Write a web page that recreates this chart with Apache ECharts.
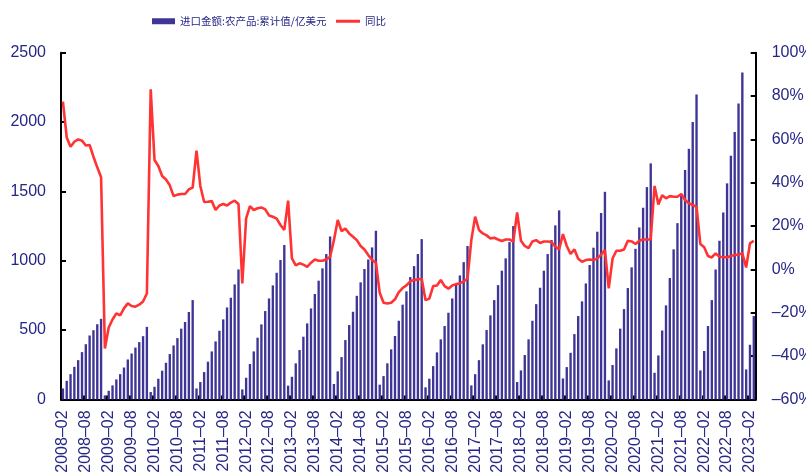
<!DOCTYPE html>
<html>
<head>
<meta charset="utf-8">
<script src="https://cdn.jsdelivr.net/npm/echarts@6/dist/echarts.min.js"></script>
<style>
html,body{margin:0;padding:0;background:#fff;}
#c{width:806px;height:476px;}
</style>
</head>
<body>
<div id="c"></div>
<script>
// Cumulative agricultural imports (亿美元), monthly, 2008-02 .. 2023-03
var val2008 = [79,134,182,235,283,341,398,461,499,542,581];
var val2009 = [29,62,101,144,182,230,288,331,374,413,456,523];
var val2010 = [53,91,149,207,264,327,389,442,510,558,630,716];
var val2011 = [79,125,197,272,346,418,495,577,663,733,829,937];
var val2012 = [72,156,255,346,445,541,637,728,822,913,1005,1113];
var val2013 = [99,163,260,356,452,548,656,760,856,945,1048,1175];
var val2014 = [111,202,305,428,536,632,747,844,940,1009,1096,1216];
var val2015 = [106,168,260,361,457,567,683,779,882,961,1048,1156];
var val2016 = [87,149,240,339,433,529,625,728,829,894,990,1106];
var val2017 = [101,182,283,397,500,606,716,824,928,1017,1134,1250];
var val2018 = [125,209,320,433,567,687,805,928,1048,1149,1255,1363];
var val2019 = [151,233,336,471,601,707,836,969,1094,1209,1344,1497];
var val2020 = [137,248,368,510,651,803,952,1086,1240,1382,1531,1702];
var val2021 = [192,317,497,678,875,1082,1271,1469,1654,1807,2000,2199];
var val2022 = [209,349,529,716,937,1144,1348,1558,1757,1928,2134,2358];
var val2023 = [216,394,601];

// Year-on-year (%)
var yoy2008 = [77.4,60.9,56.6,58.9,60.0,59.4,57.2,57.4,52.0,47.1,42.5];
var yoy2009 = [-36.5,-26.8,-23.1,-20.3,-21.2,-18.0,-15.7,-16.9,-17.2,-16.3,-14.8,-11.1];
var yoy2010 = [83.1,50.5,47.7,43.1,41.5,38.8,33.8,34.5,34.8,34.8,36.9,37.8];
var yoy2011 = [54.8,38.5,31.1,31.2,31.5,27.4,29.5,30.2,29.5,30.8,31.7,30.2];
var yoy2012 = [-6.5,23.5,29.2,27.4,28.2,28.6,27.7,24.9,24.3,23.4,20.5,18.2];
var yoy2013 = [31.7,5.1,1.8,2.8,2.2,1.2,3.1,4.6,4.0,4.0,4.6,5.8];
var yoy2014 = [13.5,22.8,17.7,18.8,16.6,15.1,13.5,10.8,9.2,6.6,4.3,3.1];
var yoy2015 = [-10.8,-15.4,-15.7,-15.4,-13.8,-10.5,-8.6,-7.4,-5.5,-4.9,-4.6,-4.3];
var yoy2016 = [-14.2,-13.5,-7.7,-7.4,-4.9,-7.7,-8.9,-7.4,-6.8,-6.5,-5.5,-4.3];
var yoy2017 = [13.5,24.3,18.2,16.6,15.7,14.3,14.6,13.8,13.1,13.8,13.8,12.8];
var yoy2018 = [26.3,13.2,10.8,9.8,12.9,13.5,12.2,12.9,12.9,12.6,10.5,9.2];
var yoy2019 = [16.3,10.8,7.1,9.2,4.9,3.5,4.3,4.6,4.3,5.1,6.8,8.9];
var yoy2020 = [-8.8,5.0,8.6,8.6,9.2,13.2,12.9,11.7,13.2,13.8,13.8,13.8];
var yoy2021 = [38.5,30.0,34.2,32.8,33.8,33.5,33.5,34.8,32.0,30.5,29.7,28.9];
var yoy2022 = [11.7,10.2,6.2,5.5,7.4,5.8,5.7,5.5,6.2,6.6,6.9,7.4];
var yoy2023 = [0.9,12.0,13.2];

var firstYear = 2008, firstMonth = 2, lastYear = 2023, lastMonth = 3;
var seriesNames = ['进口金额:农产品:累计值/亿美元', '同比'];
var leftTicks = {min: 0, max: 2500, interval: 500};
var rightTicks = {min: -60, max: 100, interval: 20};

var values = [].concat(val2008,val2009,val2010,val2011,val2012,val2013,val2014,val2015,val2016,val2017,val2018,val2019,val2020,val2021,val2022,val2023);
var yoy = [].concat(yoy2008,yoy2009,yoy2010,yoy2011,yoy2012,yoy2013,yoy2014,yoy2015,yoy2016,yoy2017,yoy2018,yoy2019,yoy2020,yoy2021,yoy2022,yoy2023);

var months = [];
for (var y = firstYear; y <= lastYear; y++) {
  for (var m = 1; m <= 12; m++) {
    if (y === firstYear && m < firstMonth) continue;
    if (y === lastYear && m > lastMonth) continue;
    months.push(y + '–' + (m < 10 ? '0' + m : '' + m));
  }
}

var navy = '#262686';
var barColor = '#3f3596';
var lineColor = '#ff3333';
var numFont = 'Liberation Sans, Arial, sans-serif';
var legendText = {color: navy, fontSize: 10.5, fontFamily: 'Noto Sans CJK SC, sans-serif'};

var chart = echarts.init(document.getElementById('c'), null, {renderer: 'canvas'});
chart.setOption({
  animation: false,
  backgroundColor: '#ffffff',
  legend: [
    {
      left: 152, top: 16, padding: 0,
      itemWidth: 23, itemHeight: 6, itemGap: 4,
      textStyle: legendText,
      data: [{name: seriesNames[0], icon: 'rect'}]
    },
    {
      left: 336, top: 16, padding: 0,
      itemWidth: 24, itemHeight: 3, itemGap: 4,
      textStyle: legendText,
      data: [{name: seriesNames[1], icon: 'rect'}]
    }
  ],
  grid: {left: 61, right: 50.3, top: 52.7, bottom: 76.6, containLabel: false, outerBoundsMode: 'none'},
  xAxis: {
    type: 'category',
    data: months,
    boundaryGap: true,
    axisLine: {lineStyle: {color: '#000', width: 2}},
    axisTick: {show: true, inside: true, length: 4, interval: 5, lineStyle: {color: '#000', width: 2}},
    axisLabel: {interval: 5, rotate: 90, fontSize: 16, color: navy, margin: 11, fontFamily: numFont},
    splitLine: {show: false}
  },
  yAxis: [
    {
      type: 'value', position: 'left',
      min: leftTicks.min, max: leftTicks.max, interval: leftTicks.interval,
      axisLine: {show: true, lineStyle: {color: '#000', width: 2}},
      axisTick: {show: true, inside: true, length: 5, lineStyle: {color: '#000', width: 2}},
      axisLabel: {fontSize: 16, color: navy, margin: 15, fontFamily: numFont,
        formatter: function (v) { return String(v); }},
      splitLine: {show: false}
    },
    {
      type: 'value', position: 'right',
      min: rightTicks.min, max: rightTicks.max, interval: rightTicks.interval,
      axisLine: {show: true, lineStyle: {color: '#000', width: 2}},
      axisTick: {show: true, inside: true, length: 5, lineStyle: {color: '#000', width: 2}},
      axisLabel: {fontSize: 16, color: navy, margin: 16, fontFamily: numFont,
        formatter: function (v) { return (v < 0 ? '–' + Math.abs(v) : v) + '%'; }},
      splitLine: {show: false}
    }
  ],
  series: [
    {
      name: seriesNames[0], type: 'bar', yAxisIndex: 0,
      data: values, barWidth: '62%',
      itemStyle: {color: barColor}
    },
    {
      name: seriesNames[1], type: 'line', yAxisIndex: 1,
      data: yoy, symbol: 'none', showSymbol: false, smooth: false, z: 5,
      lineStyle: {color: lineColor, width: 2.6},
      itemStyle: {color: lineColor}
    }
  ]
});
</script>
</body>
</html>
